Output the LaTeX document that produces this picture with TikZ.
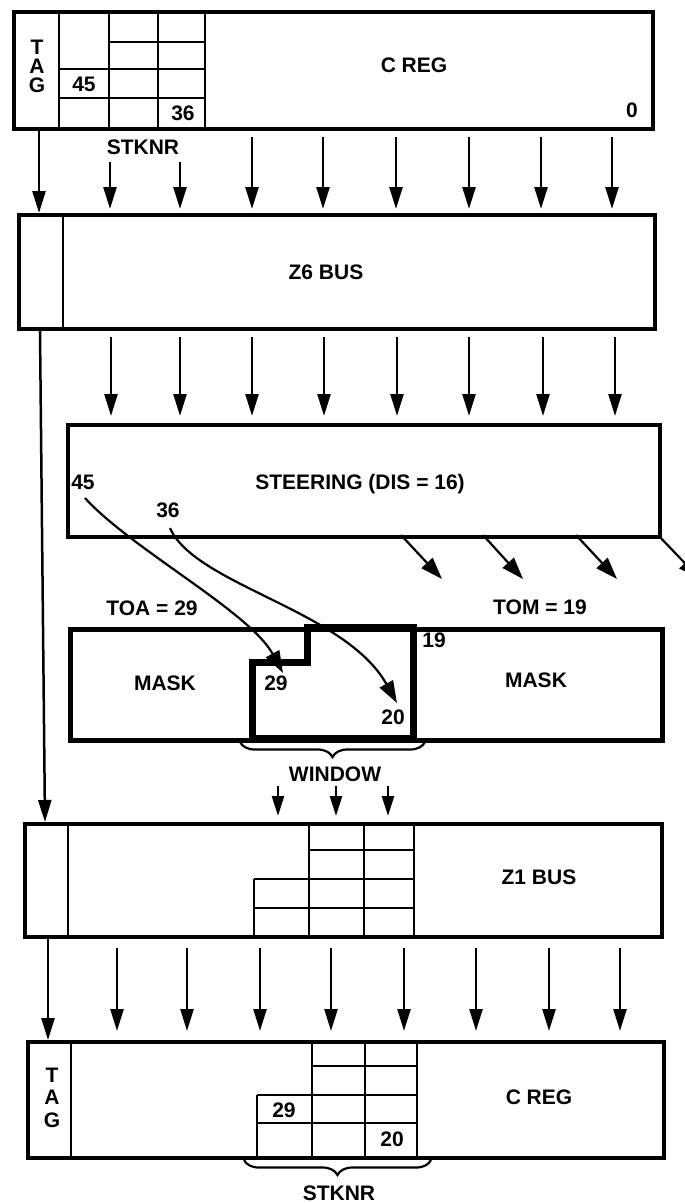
\documentclass[tikz,border=0pt]{standalone}
\usepackage{fontspec}
\setmainfont{Liberation Sans}
\usetikzlibrary{arrows.meta,decorations.pathreplacing}
\newcommand{\lblsize}{\fontsize{21}{23}\selectfont\bfseries}

\begin{document}
\begin{tikzpicture}[x=1pt, y=-1pt,
    every node/.style={font=\lblsize, inner sep=0pt, text height=15pt, text depth=0pt},
    regbox/.style={draw, line width=4pt, anchor=north west, inner sep=0pt},
    cell/.style={line width=2.5pt},
    tagline/.style={line width=2pt},
    busarrow/.style={line width=2.5pt, -{Triangle[length=22pt,width=13pt]}},
    shortarrow/.style={line width=2.5pt, -{Triangle[length=20pt,width=12pt]}},
    steerarrow/.style={line width=2.2pt, -{Triangle[length=22pt,width=15pt]}},
    wbrace/.style={decorate, decoration={brace, mirror, amplitude=15pt}, line width=2.2pt}]
    \useasboundingbox (0,0) rectangle (685,1203);

    \node[regbox, minimum width=639pt, minimum height=117pt] (creg) at (12,10) {};
    \draw[tagline] (59,10) -- (59,127);
    \draw[cell] (109,10) -- (109,127) (158,10) -- (158,127) (205,10) -- (205,127);
    \draw[cell] (109,42) -- (205,42) (59,69) -- (205,69) (59,98) -- (205,98);
    \foreach \l/\y in {T/47,A/66,G/85}
        \node (tagtop\l) at (37,\y) {\l};
    \node (cfortyfive) at (84,84) {45};
    \node (cthirtysix) at (183,113) {36};
    \node (czero) at (632,110) {0};
    \node (cregtext) at (414,65) {C REG};
    \node (stknrtop) at (143,147) {STKNR};

    \coordinate (tagA) at (39,0);
    \coordinate (tagB) at (40,0);
    \coordinate (tagC) at (45,0);
    \coordinate (tagD) at (48,0);

    \node[regbox, minimum width=636pt, minimum height=114pt] (zsix) at (17,213) {};
    \draw[tagline] (63,213) -- (63,327);
    \node (zsixtext) at (326,272) {Z6 BUS};
    \draw[busarrow] (creg.south -| tagA) -- (zsix.north -| tagA);
    \foreach \x in {110,180}
        \draw[busarrow] (\x,162) -- (\x,209);
    \foreach \x in {252,323,396,469,541,612}
        \draw[busarrow] (\x,137) -- (\x,209);

    \node[regbox, minimum width=592pt, minimum height=112pt] (steer) at (66,423) {};
    \node (steertext) at (360,482) {STEERING (DIS = 16)};
    \node (sfortyfive) at (83,482) {45};
    \node (sthirtysix) at (168,510) {36};
    \foreach \x in {111,180,252,324,397,469,543,615}
        \draw[busarrow] (\x,337) -- (\x,416);
    \foreach \a/\b in {401/442,483/523,576/617,658/700}
        \draw[steerarrow] (\a,535) -- (\b,579);

    \node[regbox, line width=4.5pt, minimum width=592pt, minimum height=111pt] (mask) at (68,627) {};
    \draw[line width=7pt, line join=miter] (252,738) -- (252,662) -- (307,662) -- (307,627)
        -- (413,627) -- (413,738) -- cycle;
    \node (toa) at (152,608) {TOA = 29};
    \node (tom) at (540,607) {TOM = 19};
    \node (maskleft) at (165,683) {MASK};
    \node (maskright) at (536,680) {MASK};
    \node (wtwentynine) at (276,683) {29};
    \node (wtwenty) at (393,717) {20};
    \node (wnineteen) at (434,640) {19};
    \coordinate (c45) at (85,498);
    \coordinate (c36) at (170,528);
    \coordinate (t29) at (283,673);
    \coordinate (t20) at (397,703);
    \draw[steerarrow] (c45) .. controls (130,548) and (250,612) .. (t29);
    \draw[steerarrow] (c36) .. controls (195,585) and (345,610) .. (t20);
    \draw[wbrace] (240,742) -- (425,742);
    \node (window) at (335,774) {WINDOW};

    \node[regbox, minimum width=637pt, minimum height=113pt] (zone) at (23,822) {};
    \draw[tagline] (68,822) -- (68,935);
    \draw[cell] (309,822) -- (309,935) (364,822) -- (364,935) (414,822) -- (414,935) (254,879) -- (254,935);
    \draw[cell] (309,850) -- (414,850) (254,879) -- (414,879) (254,908) -- (414,908);
    \node (zonetext) at (539,877) {Z1 BUS};
    \draw[busarrow] (zsix.south -| tagB) -- (zone.north -| tagC);
    \foreach \x in {278,336,388}
        \draw[shortarrow] (\x,786) -- (\x,816);

    \node[regbox, minimum width=636pt, minimum height=116pt] (cregb) at (26,1040) {};
    \draw[tagline] (71,1040) -- (71,1156);
    \draw[cell] (312,1040) -- (312,1156) (365,1040) -- (365,1156) (417,1040) -- (417,1156) (257,1095) -- (257,1156);
    \draw[cell] (312,1066) -- (417,1066) (257,1095) -- (417,1095) (257,1123) -- (417,1123);
    \foreach \l/\y in {T/1075,A/1097,G/1120}
        \node (tagbot\l) at (52,\y) {\l};
    \node (btwentynine) at (284,1110) {29};
    \node (btwenty) at (392,1139) {20};
    \node (cregbtext) at (539,1097) {C REG};
    \draw[busarrow] (zone.south -| tagD) -- (cregb.north -| tagD);
    \foreach \x in {117,187,260,331,404,476,549,620}
        \draw[busarrow] (\x,948) -- (\x,1031);
    \draw[wbrace] (244,1160) -- (431,1160);
    \node (stknrbot) at (339,1193) {STKNR};
\end{tikzpicture}
\end{document}
